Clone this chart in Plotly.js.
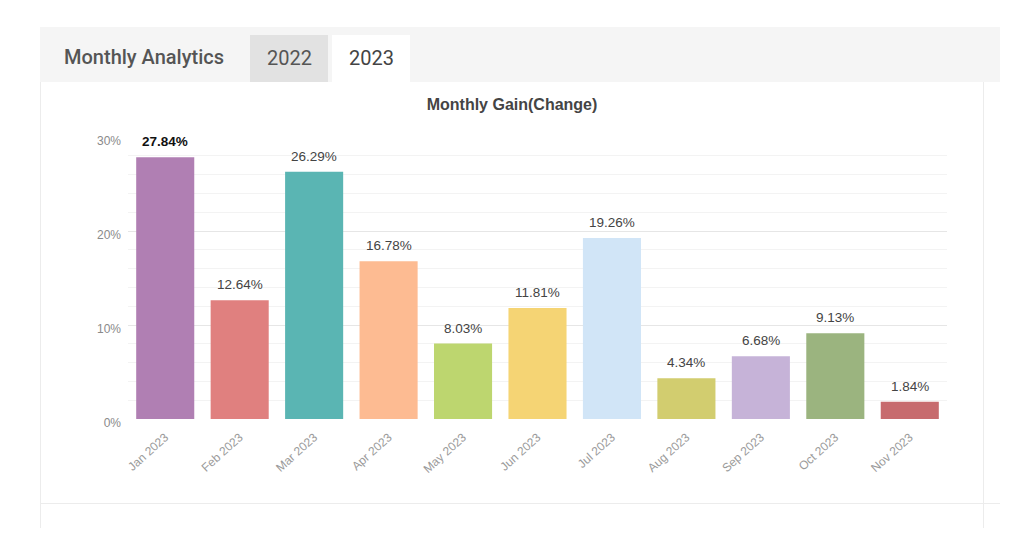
<!DOCTYPE html>
<html>
<head>
<meta charset="utf-8">
<script src="https://cdn.plot.ly/plotly-3.0.1.min.js"></script>
<style>
html,body{margin:0;padding:0;background:#fff;}
#chart{width:1024px;height:557px;}
</style>
</head>
<body>
<div id="chart"></div>
<script>
// ---- data ----
const months = ["Jan 2023","Feb 2023","Mar 2023","Apr 2023","May 2023","Jun 2023","Jul 2023","Aug 2023","Sep 2023","Oct 2023","Nov 2023"];
const gains = [27.84, 12.64, 26.29, 16.78, 8.03, 11.81, 19.26, 4.34, 6.68, 9.13, 1.84];
const gainLabels = ["27.84%","12.64%","26.29%","16.78%","8.03%","11.81%","19.26%","4.34%","6.68%","9.13%","1.84%"];
const barColors = ["#b07fb3","#e0807f","#5ab5b3","#fdbb92","#bdd66f","#f5d474","#d1e5f7","#d2cd6f","#c6b3d8","#9bb47f","#c76b6e"];
const chartTitle = "Monthly Gain(Change)";
const headerTitle = "Monthly Analytics";
const tabs = ["2022", "2023"];

// ---- geometry helpers (pixel -> paper) ----
const W = 1024, H = 557;
const L = 128, R = 947, T = 137, B = 419;
const px = x => (x - L) / (R - L);
const py = y => (B - y) / (B - T);

const shapes = [
  {type:'rect', xref:'paper', yref:'paper', x0:px(40), x1:px(1000), y0:py(82), y1:py(27), fillcolor:'#f5f5f5', line:{width:0}, layer:'below'},
  {type:'rect', xref:'paper', yref:'paper', x0:px(250), x1:px(328), y0:py(82), y1:py(35), fillcolor:'#e2e2e2', line:{width:0}, layer:'below'},
  {type:'rect', xref:'paper', yref:'paper', x0:px(332), x1:px(410), y0:py(82), y1:py(35), fillcolor:'#ffffff', line:{width:0}, layer:'below'},
  {type:'line', xref:'paper', yref:'paper', x0:px(40.5), x1:px(40.5), y0:py(82), y1:py(528), line:{color:'#ececec', width:1}, layer:'below'},
  {type:'line', xref:'paper', yref:'paper', x0:px(983.5), x1:px(983.5), y0:py(82), y1:py(528), line:{color:'#ececec', width:1}, layer:'below'},
  {type:'line', xref:'paper', yref:'paper', x0:px(40), x1:px(1000), y0:py(503.5), y1:py(503.5), line:{color:'#ececec', width:1}, layer:'below'}
];

const annotations = [
  {xref:'paper', yref:'paper', x:px(62), y:py(57), xanchor:'left', yanchor:'middle', showarrow:false,
   text:headerTitle, font:{family:'Roboto, sans-serif', size:20, weight:500, color:'#555555'}},
  {xref:'paper', yref:'paper', x:px(289), y:py(58), xanchor:'center', yanchor:'middle', showarrow:false,
   text:tabs[0], font:{family:'Roboto, sans-serif', size:20, color:'#555555'}},
  {xref:'paper', yref:'paper', x:px(371), y:py(58), xanchor:'center', yanchor:'middle', showarrow:false,
   text:tabs[1], font:{family:'Roboto, sans-serif', size:20, color:'#444444'}}
];

months.forEach((m, i) => {
  annotations.push({
    x: m, y: gains[i], xref:'x', yref:'y', showarrow:false, yanchor:'bottom', yshift:6,
    text: i === 0 ? '<b>' + gainLabels[i] + '</b>' : gainLabels[i],
    font:{family:'Liberation Sans, Arial, sans-serif', size:13.5, color: i === 0 ? '#111111' : '#444444'}
  });
});

const trace = {
  type:'bar', x:months, y:gains,
  marker:{color:barColors, line:{width:0}},
  hoverinfo:'skip'
};

const layout = {
  width:W, height:H,
  margin:{l:L, r:W-R, t:T, b:H-B, pad:0},
  paper_bgcolor:'#ffffff', plot_bgcolor:'rgba(0,0,0,0)',
  showlegend:false,
  bargap:0.22,
  font:{family:'Liberation Sans, Arial, sans-serif'},
  title:{text:'<b>' + chartTitle + '</b>', x:0.5, xref:'container', xanchor:'center',
         y:1 - 104/H, yref:'container', yanchor:'middle',
         font:{family:'Liberation Sans, Arial, sans-serif', size:16, color:'#444444'}},
  xaxis:{type:'category', tickangle:-42, showgrid:false, zeroline:false, showline:false, ticks:'',
         ticklabelstandoff:8,
         tickfont:{size:12, color:'#9a9a9a'}, automargin:false},
  yaxis:{range:[0,30], dtick:10, ticksuffix:'%', showgrid:true, gridcolor:'#e6e6e6', gridwidth:1,
         zeroline:false, showline:false, ticks:'', ticklabelstandoff:6, ticklabelshift:4,
         tickfont:{size:12, color:'#8a8a8a'}, automargin:false,
         minor:{dtick:2, showgrid:true, gridcolor:'#f3f3f3', gridwidth:1}},
  shapes:shapes,
  annotations:annotations
};

Plotly.newPlot('chart', [trace], layout, {displayModeBar:false, staticPlot:true});
</script>
</body>
</html>
